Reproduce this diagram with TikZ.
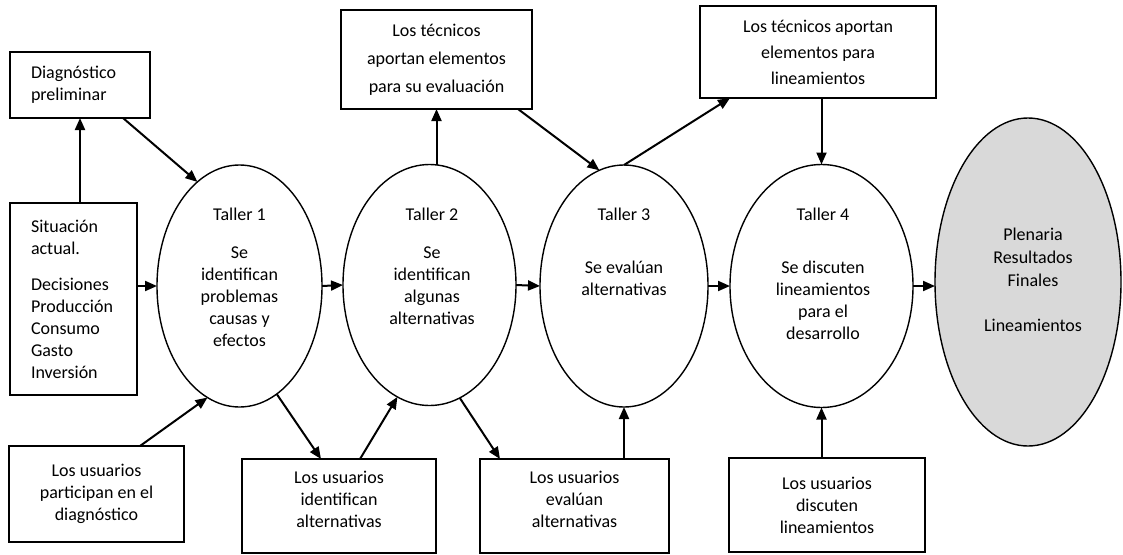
\documentclass[tikz,border=0pt]{standalone}
\usepackage{fontspec}
\setmainfont{Carlito}
\usetikzlibrary{shapes.geometric,arrows.meta,calc}

\begin{document}
\begin{tikzpicture}[x=1pt,y=-1pt,
  every node/.style={font=\fontsize{18}{22}\selectfont},
  box/.style={draw, line width=1.3pt, inner sep=0pt, outer sep=0pt, align=center},
  lbox/.style={box, align=left, inner xsep=21pt},
  ell/.style={draw, ellipse, line width=1.4pt, inner sep=0pt, outer sep=0pt},
  txt/.style={align=center, inner sep=0pt, anchor=north},
  arr/.style={line width=2pt, -{Triangle[length=12pt,width=10pt]}}
]
\useasboundingbox (0,0) rectangle (1123,554);

% left column
\node[lbox, text width=98pt, minimum width=140pt, minimum height=66pt] (d0) at (80,85)
  {Diagnóstico\\preliminar};
\node[lbox, text width=85pt, minimum width=127pt, minimum height=192pt] (s0) at (73.5,299)
  {Situación\\actual.\\[14pt]Decisiones\\Producción\\Consumo\\Gasto\\Inversión};

% workshops
\node[ell, minimum width=165pt, minimum height=242pt] (e1) at (239.5,286) {};
\node[ell, minimum width=173pt, minimum height=241pt] (e2) at (429.5,285) {};
\node[ell, minimum width=168pt, minimum height=242pt] (e3) at (624,286) {};
\node[ell, minimum width=183pt, minimum height=243pt] (e4) at (821.5,286) {};
\node[ell, fill=gray!30, minimum width=186pt, minimum height=328pt] (e5) at (1028,282) {};

\node[txt] (e1txt) at (239.5,208) {Taller 1\\[16pt]Se\\identifican\\problemas\\causas y\\efectos};
\node[txt] (e2txt) at (432,208) {Taller 2\\[16pt]Se\\identifican\\algunas\\alternativas};
\node[txt] (e3txt) at (624,208) {Taller 3\\[31pt]Se evalúan\\alternativas};
\node[txt] (e4txt) at (823,208) {Taller 4\\[31pt]Se discuten\\lineamientos\\para el\\desarrollo};
\node[txt, font=\fontsize{18}{23}\selectfont] (e5txt) at (1033,228)
  {Plenaria\\Resultados\\Finales\\[22pt]Lineamientos};

% technicians' inputs
\node[box, font=\fontsize{18}{28}\selectfont, minimum width=191pt, minimum height=99pt] (t2) at (436.5,59.5)
  {Los técnicos\\aportan elementos\\para su evaluación};
\node[box, font=\fontsize{18}{26}\selectfont, minimum width=236pt, minimum height=92pt] (t3) at (818,52)
  {Los técnicos aportan\\elementos para\\lineamientos};

% users' inputs
\node[box, minimum width=175pt, minimum height=96pt] (b1) at (96.5,494)
  {Los usuarios\\participan en el\\diagnóstico};
\node[box, text depth=14pt, minimum width=194pt, minimum height=94pt] (b2) at (339,506)
  {Los usuarios\\identifican\\alternativas};
\node[box, text depth=14pt, minimum width=189pt, minimum height=94pt] (b3) at (574.5,506)
  {Los usuarios\\evalúan\\alternativas};
\node[box, minimum width=196pt, minimum height=94pt] (b4) at (827,505)
  {Los usuarios\\discuten\\lineamientos};

% connectors
\draw[arr] (s0.north -| d0.south) -- (d0.south);
\draw[arr] ($(d0.south east)+(-27,0)$) -- (e1.112);
\draw[arr] (s0.east |- e1.west) -- (e1.west);
\draw[arr] ($(b1.north)+(43.5,0)$) -- (e1.254);

\draw[arr] (e1.east) -- (e2.west);
\draw[arr] (e1.289) -- ($(b2.north)+(-18,0)$);
\draw[arr] ($(b2.north)+(21,0)$) -- (e2.254);
\draw[arr] (t2.south |- e2.north) -- (t2.south);

\draw[arr] (e2.east) -- (e3.west);
\draw[arr] (e2.285) -- ($(b3.north)+(-74.5,0)$);
\draw[arr] (b3.north -| e3.south) -- (e3.south);
\draw[arr] ($(t2.south east)+(-14,0)$) -- (e3.102);
\draw[arr] (e3.north) -- ($(t3.south west)+(30,0)$);

\draw[arr] (e3.east) -- (e4.west);
\draw[arr] (t3.south -| e4.north) -- (e4.north);
\draw[arr] (b4.north -| e4.south) -- (e4.south);

\draw[arr] (e4.east) -- (e4.east -| e5.west);
\end{tikzpicture}
\end{document}
